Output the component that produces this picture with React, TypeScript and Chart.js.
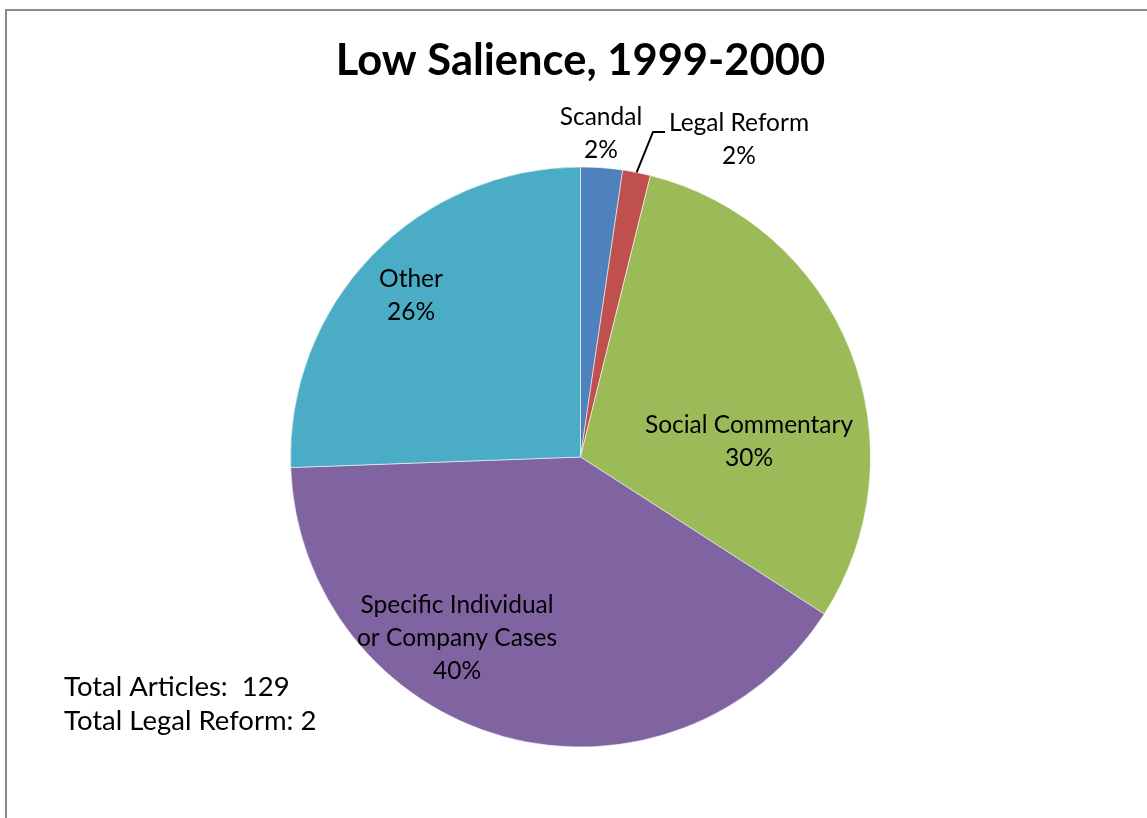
import React, { useEffect, useRef } from "react";
import { Chart, registerables } from "chart.js";

Chart.register(...registerables);

const categories = ["Scandal", "Legal Reform", "Social Commentary", "Specific Individual or Company Cases", "Other"];
const articleCounts = [3, 2, 39, 52, 33];
const percentLabels = ["2%", "2%", "30%", "40%", "26%"];
const labelLines = [["Scandal"], ["Legal Reform"], ["Social Commentary"], ["Specific Individual", "or Company Cases"], ["Other"]];
const sliceColors = ["#4F81BD", "#C0504D", "#9BBB59", "#8064A2", "#4BACC6"];
const titleText = "Low Salience, 1999-2000";
const noteLines = ["Total Articles:  129", "Total Legal Reform: 2"];

// label block centres, as pixel offsets from the pie centre (layout only)
const labelOffsets: [number, number][] = [
  [20.5, -323],
  [158.5, -317],
  [168.5, -15],
  [-123.5, 181],
  [-169.5, -161],
];

const FONT = "Lato, 'Open Sans', sans-serif";

const overlayPlugin = {
  id: "overlay",
  beforeDraw(chart: any) {
    const ctx = chart.ctx;
    ctx.save();
    ctx.fillStyle = "#ffffff";
    ctx.fillRect(0, 0, chart.width, chart.height);
    ctx.strokeStyle = "#8a8a8a";
    ctx.lineWidth = 2;
    ctx.strokeRect(6, 10, 1400, 1000);
    ctx.restore();
  },
  afterDraw(chart: any) {
    const ctx = chart.ctx;
    const meta = chart.getDatasetMeta(0);
    const arc0 = meta.data[0];
    const cx = arc0.x;
    const cy = arc0.y;
    const r = arc0.outerRadius;
    ctx.save();
    // title
    ctx.fillStyle = "#000";
    ctx.textAlign = "center";
    ctx.textBaseline = "middle";
    ctx.font = `bold 43.5px ${FONT}`;
    ctx.fillText(titleText, cx, 61);

    // labels
    ctx.font = `24.5px ${FONT}`;
    const lh = 33;
    labelLines.forEach((lines, i) => {
      const all = [...lines, percentLabels[i]];
      const bx = cx + labelOffsets[i][0];
      const by = cy + labelOffsets[i][1];
      const top = by - ((all.length - 1) * lh) / 2;
      all.forEach((t, j) => ctx.fillText(t, bx, top + j * lh));
    });

    // leader line for Legal Reform
    const a1 = meta.data[1];
    const mid = (a1.startAngle + a1.endAngle) / 2;
    const sx = cx + Math.cos(mid) * r;
    const sy = cy + Math.sin(mid) * r;
    ctx.strokeStyle = "#000";
    ctx.lineWidth = 2;
    ctx.beginPath();
    ctx.moveTo(sx, sy);
    ctx.lineTo(cx + 72.5, cy - 325);
    ctx.lineTo(cx + 84.5, cy - 325);
    ctx.stroke();

    // notes
    ctx.textAlign = "left";
    ctx.font = `27.5px ${FONT}`;
    noteLines.forEach((t, j) => ctx.fillText(t, 64, 687 + j * 34));
    ctx.restore();
  },
};

export default function App() {
  const ref = useRef<HTMLCanvasElement | null>(null);
  useEffect(() => {
    if (!ref.current) return;
    const chart = new Chart(ref.current, {
      type: "pie",
      data: {
        labels: categories,
        datasets: [
          {
            data: articleCounts,
            backgroundColor: sliceColors,
            borderColor: "rgba(255,255,255,0.55)",
            borderWidth: 1,
          },
        ],
      },
      options: {
        responsive: false,
        animation: false,
        devicePixelRatio: 1,
        radius: 290,
        layout: { padding: { left: 290, right: 276, top: 167, bottom: 71 } },
        plugins: { legend: { display: false }, tooltip: { enabled: false }, title: { display: false } },
      } as any,
      plugins: [overlayPlugin],
    });
    return () => chart.destroy();
  }, []);
  return (
    <div style={{ position: "fixed", left: 0, top: 0, width: 1147, height: 818 }}>
      <canvas ref={ref} width={1147} height={818} style={{ width: 1147, height: 818, display: "block" }} />
    </div>
  );
}
